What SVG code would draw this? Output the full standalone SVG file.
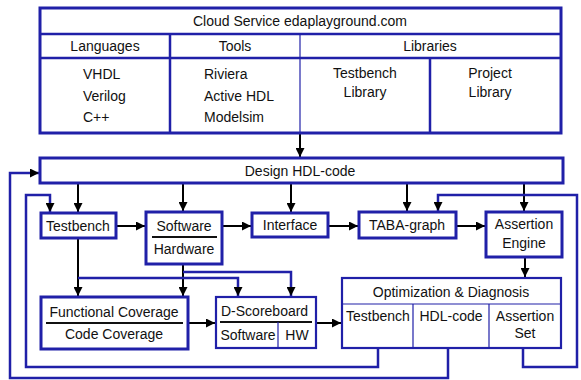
<svg xmlns="http://www.w3.org/2000/svg" width="581" height="380" viewBox="0 0 581 380">
  <defs>
    <marker id="arrow" viewBox="0 0 10 10" refX="10" refY="5" markerWidth="10" markerHeight="9" markerUnits="userSpaceOnUse" orient="auto">
      <path d="M0,0 L10,5 L0,10 z" fill="#000"/>
    </marker>
    <style>
      text { font-family: "Liberation Sans", Arial, sans-serif; font-size: 14px; fill: #111; }
      .c { text-anchor: middle; }
      .box { fill: #fff; stroke: #2020a8; stroke-width: 3; }
      .box2 { fill: #fff; stroke: #2020a8; stroke-width: 2.2; }
      .div { stroke: #2020a8; stroke-width: 2.5; fill: none; }
      .thin { stroke: #2020a8; stroke-width: 1.2; fill: none; }
      .rule { stroke: #111; stroke-width: 2; fill: none; }
      .link { stroke: #000; stroke-width: 2; fill: none; marker-end: url(#arrow); }
      .loop { stroke: #2020a8; stroke-width: 2.5; fill: none; marker-end: url(#arrow); }
    </style>
  </defs>
  <rect width="581" height="380" fill="#fff"/>

  <!-- connectors -->
  <g id="connectors">
    <path class="link" d="M300,133 V157"/>
    <path class="link" d="M78,183 V212"/>
    <path class="link" d="M183,183 V211"/>
    <path class="link" d="M291,183 V212"/>
    <path class="link" d="M407,183 V211"/>
    <path class="link" d="M524,183 V211"/>
    <path class="link" d="M116,226 H145"/>
    <path class="link" d="M222,226 H251"/>
    <path class="link" d="M328,226 H358"/>
    <path class="link" d="M456,226 H485"/>
    <path class="link" d="M78,238 V296"/>
    <path class="link" d="M183,264 V296"/>
    <path class="loop" d="M78,278 H238 V296"/>
    <path class="loop" d="M183,272 H291 V296"/>
    <path class="link" d="M188,323 H215"/>
    <path class="link" d="M316,323 H341"/>
    <path class="link" d="M525,257 V277"/>
    <path class="loop" d="M378,348 V367 H26 V195 H50 V212"/>
    <path class="loop" d="M448,348 V378 H10 V173 H39"/>
    <path class="loop" d="M523,348 V367 H577 V195 H438 V211"/>
  </g>

  <!-- cloud service panel -->
  <g id="cloud-service">
    <rect class="box" x="40" y="8" width="521" height="125"/>
    <path class="div" d="M40,34 H561 M40,58 H561 M170,34 V133 M430,58 V133"/>
    <path class="thin" d="M300,34 V133"/>
    <text class="c" x="300" y="26">Cloud Service edaplayground.com</text>
    <text class="c" x="105" y="51">Languages</text>
    <text class="c" x="235" y="51">Tools</text>
    <text class="c" x="430" y="51">Libraries</text>
    <text x="83" y="79">VHDL</text>
    <text x="83" y="101">Verilog</text>
    <text x="83" y="122">C++</text>
    <text x="204" y="79">Riviera</text>
    <text x="204" y="101">Active HDL</text>
    <text x="204" y="122">Modelsim</text>
    <text class="c" x="365" y="78">Testbench</text>
    <text class="c" x="365" y="97">Library</text>
    <text class="c" x="490" y="78">Project</text>
    <text class="c" x="490" y="97">Library</text>
  </g>

  <g id="design-hdl">
    <rect class="box" x="40" y="158" width="523" height="25"/>
    <text class="c" x="300" y="176">Design HDL-code</text>
  </g>

  <g id="testbench">
    <rect class="box" x="41" y="213" width="75" height="25"/>
    <text class="c" x="78" y="231">Testbench</text>
  </g>

  <g id="software-hardware">
    <rect class="box" x="146" y="212" width="76" height="52"/>
    <path class="rule" d="M152,237 H217"/>
    <text class="c" x="184" y="231">Software</text>
    <text class="c" x="184" y="254">Hardware</text>
  </g>

  <g id="interface">
    <rect class="box" x="252" y="213" width="76" height="24"/>
    <text class="c" x="290" y="230">Interface</text>
  </g>

  <g id="taba-graph">
    <rect class="box" x="359" y="212" width="97" height="26"/>
    <text class="c" x="407" y="230">TABA-graph</text>
  </g>

  <g id="assertion-engine">
    <rect class="box" x="486" y="212" width="76" height="45"/>
    <text class="c" x="524" y="229">Assertion</text>
    <text class="c" x="524" y="248">Engine</text>
  </g>

  <g id="coverage">
    <rect class="box" x="41" y="297" width="147" height="52"/>
    <path class="rule" d="M46,323 H183"/>
    <text class="c" x="114" y="317">Functional Coverage</text>
    <text class="c" x="114" y="339">Code Coverage</text>
  </g>

  <g id="d-scoreboard">
    <rect class="box2" x="216" y="297" width="100" height="51"/>
    <path class="rule" d="M220,322 H312"/>
    <path class="thin" d="M278,322 V348"/>
    <text x="221" y="316">D-Scoreboard</text>
    <text class="c" x="248" y="340">Software</text>
    <text class="c" x="297" y="340">HW</text>
  </g>

  <g id="optimization">
    <rect class="box2" x="342" y="278" width="219" height="70"/>
    <path class="thin" d="M342,304 H561 M413,304 V348 M489,304 V348"/>
    <text class="c" x="451" y="297">Optimization &amp; Diagnosis</text>
    <text class="c" x="378" y="321">Testbench</text>
    <text class="c" x="451" y="321">HDL-code</text>
    <text class="c" x="525" y="321">Assertion</text>
    <text class="c" x="525" y="338">Set</text>
  </g>
</svg>
